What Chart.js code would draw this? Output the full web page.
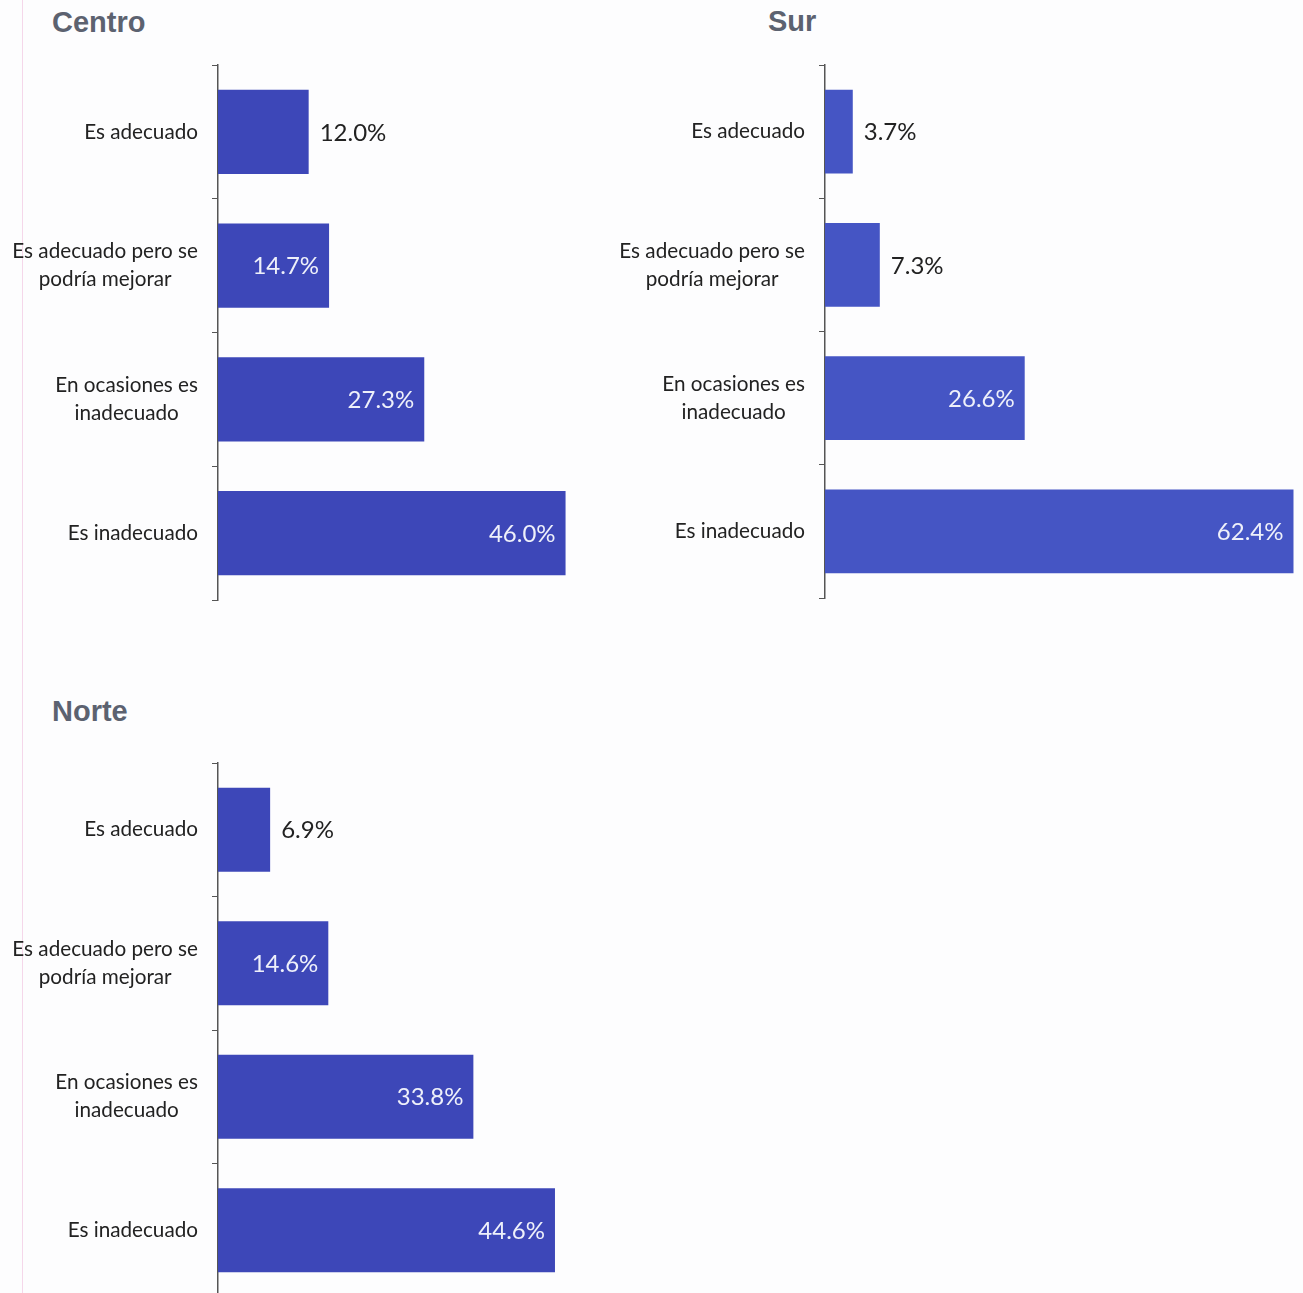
<!DOCTYPE html>
<html lang="es">
<head>
    <meta charset="UTF-8" />
    <title>Opinión por región</title>
    <script src="https://cdn.jsdelivr.net/npm/chart.js"></script>
    <style>
        html, body { margin: 0; padding: 0; background: #fdfdfe; overflow: hidden; }
        body { width: 1303px; height: 1293px; position: relative; }
        .edge { position: absolute; left: 22px; top: 0; width: 1px; height: 1293px; background: rgba(240, 190, 220, 0.6); }
        .title { position: absolute; font: bold 29px "Liberation Sans", Arial, sans-serif; color: #5c6270; }
        .box { position: absolute; }
    </style>
</head>
<body>
    <div class="edge"></div>

    <div class="title" style="left:52px; top:6px;">Centro</div>
    <div class="title" style="left:768px; top:5px;">Sur</div>
    <div class="title" style="left:52px; top:695px;">Norte</div>

    <div class="box" style="left:0; top:0; width:720px; height:620px;"><canvas id="centroChart"></canvas></div>
    <div class="box" style="left:607px; top:0; width:696px; height:620px;"><canvas id="surChart"></canvas></div>
    <div class="box" style="left:0; top:700px; width:720px; height:620px;"><canvas id="norteChart"></canvas></div>

    <script>
        // Categories and values per region (percent)
        const categories = [
            ['Es adecuado'],
            ['Es adecuado pero se', 'podría mejorar'],
            ['En ocasiones es', 'inadecuado'],
            ['Es inadecuado']
        ];
        const centroValues = [12.0, 14.7, 27.3, 46.0];
        const surValues = [3.7, 7.3, 26.6, 62.4];
        const norteValues = [6.9, 14.6, 33.8, 44.6];

        const axisMax = 63;
        const fontFamily = 'Lato, "Open Sans", sans-serif';

        // category labels: block right-aligned to the axis, lines centred inside the block
        const categoryLabels = {
            id: 'categoryLabels',
            afterDraw(chart) {
                const ctx = chart.ctx;
                const yScale = chart.scales.y;
                const right = chart.chartArea.left - 20;
                ctx.save();
                ctx.font = '20.7px ' + fontFamily;
                ctx.fillStyle = '#222';
                ctx.textAlign = 'center';
                ctx.textBaseline = 'middle';
                categories.forEach((lines, i) => {
                    const w = Math.max(...lines.map(l => ctx.measureText(l).width));
                    const cx = right - w / 2;
                    const cy = yScale.getPixelForValue(i);
                    const lh = 28;
                    lines.forEach((l, k) => {
                        ctx.fillText(l, cx, cy + (k - (lines.length - 1) / 2) * lh);
                    });
                });
                ctx.restore();
            }
        };

        // value labels: inside the bar end when there is room, otherwise just after it
        const valueLabels = {
            id: 'valueLabels',
            afterDatasetsDraw(chart) {
                const ctx = chart.ctx;
                const meta = chart.getDatasetMeta(0);
                const data = chart.data.datasets[0].data;
                ctx.save();
                ctx.font = '24px ' + fontFamily;
                ctx.textBaseline = 'middle';
                meta.data.forEach((bar, i) => {
                    const txt = data[i].toFixed(1) + '%';
                    if (data[i] > 13) {
                        ctx.textAlign = 'right';
                        ctx.fillStyle = '#eef0fa';
                        ctx.fillText(txt, bar.x - 10, bar.y + 1);
                    } else {
                        ctx.textAlign = 'left';
                        ctx.fillStyle = '#222';
                        ctx.fillText(txt, bar.x + 11, bar.y + 1);
                    }
                });
                ctx.restore();
            }
        };

        function makeChart(id, values, color, padding) {
            return new Chart(document.getElementById(id), {
                type: 'bar',
                data: {
                    labels: categories.map(c => c.join(' ')),
                    datasets: [{
                        data: values,
                        backgroundColor: color,
                        barPercentage: 0.63,
                        categoryPercentage: 1
                    }]
                },
                options: {
                    indexAxis: 'y',
                    responsive: true,
                    maintainAspectRatio: false,
                    animation: false,
                    layout: { padding: padding },
                    plugins: { legend: { display: false }, tooltip: { enabled: false } },
                    scales: {
                        x: { display: false, min: 0, max: axisMax },
                        y: {
                            ticks: { display: false },
                            grid: { drawOnChartArea: false, tickLength: 6, color: '#555', offset: true },
                            border: { color: '#555', width: 1.5 }
                        }
                    }
                },
                plugins: [categoryLabels, valueLabels]
            });
        }

        makeChart('centroChart', centroValues, '#3d47b8', { left: 212, right: 26, top: 65, bottom: 20 });
        makeChart('surChart', surValues, '#4555c4', { left: 212, right: 5, top: 65, bottom: 22 });
        makeChart('norteChart', norteValues, '#3d47b8', { left: 212, right: 26, top: 63, bottom: 23 });
    </script>
</body>
</html>
